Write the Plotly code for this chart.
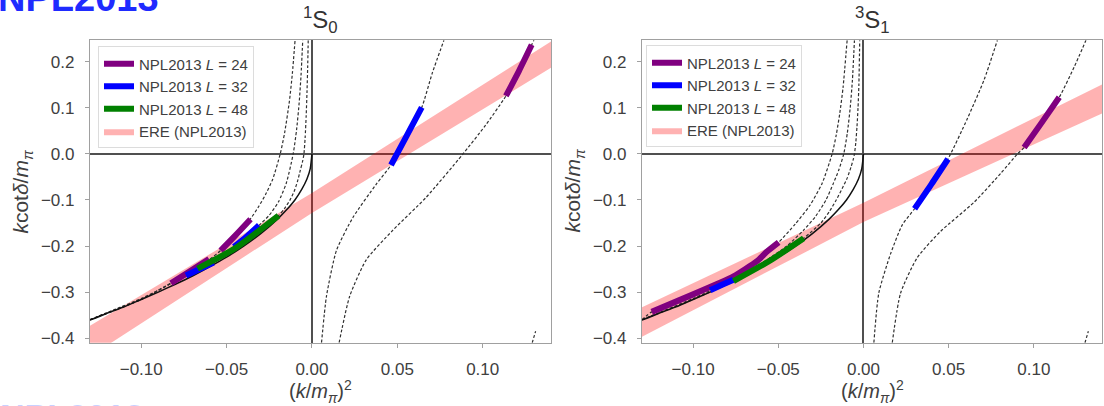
import plotly.graph_objects as go

# ---------------- data ----------------
X_TICKS = [-0.10, -0.05, 0.00, 0.05, 0.10]
Y_TICKS = [-0.4, -0.3, -0.2, -0.1, 0.0, 0.1, 0.2]
PANEL_TITLES = ["<sup>1</sup>S<sub>0</sub>", "<sup>3</sup>S<sub>1</sub>"]
LEGEND_NAMES = ["NPL2013 <i>L</i> = 24", "NPL2013 <i>L</i> = 32", "NPL2013 <i>L</i> = 48", "ERE (NPL2013)"]

# infinite-volume bound-state curve (solid), same in both panels
solid_x = [-0.13, -0.12, -0.11, -0.10, -0.09, -0.08, -0.07, -0.06, -0.05, -0.04, -0.03,
           -0.02, -0.015, -0.01, -0.006, -0.003, -0.001, 0.0]
solid_y = [-0.361, -0.346, -0.332, -0.316, -0.300, -0.283, -0.265, -0.245, -0.224, -0.200,
           -0.173, -0.141, -0.122, -0.100, -0.077, -0.055, -0.032, 0.0]

# ---- 1S0 panel ----
s0_L24_neg_x = [-0.13, -0.115, -0.10, -0.09, -0.083, -0.07, -0.06, -0.0535, -0.045, -0.036, -0.031,
                -0.0273, -0.023, -0.0186, -0.016, -0.0132, -0.0115, -0.0099]
s0_L24_neg_y = [-0.360, -0.337, -0.314, -0.296, -0.281, -0.253, -0.229, -0.210, -0.178, -0.141, -0.113,
                -0.089, -0.055, 0.0, 0.046, 0.115, 0.174, 0.247]
s0_L32_neg_x = [-0.13, -0.115, -0.10, -0.0738, -0.0576, -0.0457, -0.038, -0.031, -0.025, -0.0196,
                -0.015, -0.011, -0.009, -0.0075, -0.0064, -0.0054]
s0_L32_neg_y = [-0.360, -0.338, -0.316, -0.264, -0.236, -0.202, -0.180, -0.155, -0.133, -0.104,
                -0.063, 0.0, 0.053, 0.111, 0.171, 0.247]
s0_L48_neg_x = [-0.13, -0.115, -0.10, -0.067, -0.045, -0.0196, -0.016, -0.013, -0.0105, -0.0085,
                -0.0068, -0.0056, -0.0047, -0.004, -0.0034, -0.0029, -0.0025, -0.0022]
s0_L48_neg_y = [-0.360, -0.339, -0.316, -0.249, -0.205, -0.134, -0.118, -0.101, -0.082, -0.060,
                -0.035, -0.018, 0.0, 0.035, 0.082, 0.135, 0.190, 0.247]
s0_A_x = [0.0056, 0.0085, 0.0144, 0.024, 0.0376, 0.0463, 0.0553, 0.0643, 0.0705, 0.0773]
s0_A_y = [-0.41, -0.309, -0.209, -0.138, -0.066, -0.024, 0.038, 0.101, 0.176, 0.247]
s0_B_x = [0.0159, 0.0221, 0.0318, 0.0473, 0.0667, 0.088, 0.1016, 0.1136, 0.1212, 0.1287, 0.1300]
s0_B_y = [-0.41, -0.309, -0.230, -0.166, -0.095, -0.002, 0.062, 0.126, 0.18, 0.237, 0.247]
s0_C_x = [0.1290, 0.1310]
s0_C_y = [-0.41, -0.385]

s0_seg24_a_x = [-0.0826, -0.0715, -0.0603]
s0_seg24_a_y = [-0.281, -0.255, -0.228]
s0_seg24_b_x = [-0.0535, -0.0448, -0.036]
s0_seg24_b_y = [-0.210, -0.177, -0.142]
s0_seg24_c_x = [0.1136, 0.1212, 0.1287]
s0_seg24_c_y = [0.126, 0.18, 0.237]
s0_seg32_a_x = [-0.0738, -0.0657, -0.0576]
s0_seg32_a_y = [-0.264, -0.250, -0.236]
s0_seg32_b_x = [-0.0457, -0.0384, -0.031]
s0_seg32_b_y = [-0.202, -0.180, -0.155]
s0_seg32_c_x = [0.0463, 0.0553, 0.0643]
s0_seg32_c_y = [-0.024, 0.038, 0.101]
s0_seg48_x = [-0.067, -0.045, -0.0196]
s0_seg48_y = [-0.249, -0.205, -0.134]

s0_ere_x = [-0.13, 0.0, 0.14]
s0_ere_upper = [-0.373, -0.085, 0.244]
s0_ere_lower = [-0.440, -0.128, 0.187]

# ---- 3S1 panel ----
s1_L24_neg_x = [-0.13, -0.1243, -0.10, -0.085, -0.0763, -0.0625, -0.0566, -0.0498, -0.04, -0.0315,
                -0.0243, -0.0184, -0.016, -0.014, -0.012, -0.0096]
s1_L24_neg_y = [-0.36, -0.343, -0.305, -0.281, -0.266, -0.233, -0.212, -0.192, -0.152, -0.112,
                -0.064, 0.0, 0.041, 0.086, 0.144, 0.247]
s1_L32_neg_x = [-0.13, -0.10, -0.09, -0.0763, -0.06, -0.045, -0.035, -0.028, -0.022, -0.0178,
                -0.0145, -0.0116, -0.0095, -0.0078, -0.0065, -0.0053]
s1_L32_neg_y = [-0.36, -0.314, -0.297, -0.273, -0.238, -0.200, -0.165, -0.135, -0.100, -0.065,
                -0.035, 0.0, 0.045, 0.10, 0.16, 0.247]
s1_L48_neg_x = [-0.13, -0.10, -0.0763, -0.055, -0.0351, -0.025, -0.02, -0.016, -0.0125, -0.0095,
                -0.0072, -0.006, -0.0053, -0.0045, -0.0038, -0.0032, -0.0027, -0.0022]
s1_L48_neg_y = [-0.36, -0.316, -0.276, -0.232, -0.183, -0.150, -0.125, -0.100, -0.075, -0.052,
                -0.027, -0.012, 0.0, 0.025, 0.06, 0.10, 0.15, 0.247]
s1_A_x = [0.0061, 0.009, 0.0159, 0.0228, 0.030, 0.040, 0.0496, 0.061, 0.0708, 0.0786]
s1_A_y = [-0.41, -0.302, -0.217, -0.154, -0.119, -0.065, -0.011, 0.077, 0.161, 0.247]
s1_B_x = [0.0169, 0.0218, 0.0316, 0.0453, 0.0649, 0.0806, 0.0904, 0.0943, 0.1046, 0.1149, 0.1237, 0.1306]
s1_B_y = [-0.41, -0.302, -0.225, -0.168, -0.105, -0.042, 0.0, 0.014, 0.068, 0.123, 0.189, 0.247]
s1_C_x = [0.1300, 0.1320]
s1_C_y = [-0.41, -0.385]

s1_seg24_a_x = [-0.1243, -0.10, -0.085, -0.0763, -0.0625, -0.0566, -0.0498]
s1_seg24_a_y = [-0.343, -0.305, -0.281, -0.266, -0.233, -0.212, -0.192]
s1_seg24_b_x = [0.0943, 0.1046, 0.1149]
s1_seg24_b_y = [0.014, 0.068, 0.123]
s1_seg32_a_x = [-0.09, -0.083, -0.0763]
s1_seg32_a_y = [-0.296, -0.284, -0.273]
s1_seg32_b_x = [0.030, 0.040, 0.0496]
s1_seg32_b_y = [-0.119, -0.065, -0.011]
s1_seg48_x = [-0.0763, -0.055, -0.0351]
s1_seg48_y = [-0.276, -0.232, -0.183]

s1_ere_x = [-0.13, 0.0, 0.14]
s1_ere_upper = [-0.333, -0.106, 0.151]
s1_ere_lower = [-0.397, -0.148, 0.088]

X_RANGE = [-0.13, 0.14]
Y_RANGE = [-0.41, 0.247]

# ---------------- styling ----------------
W, H = 1104, 406
FONT = "Liberation Sans, Arial, sans-serif"
TXT = "#404040"
FRAME = "#a0a0a0"
PINK = "rgba(255,0,0,0.30)"
SEG_COLORS = ["#800080", "#0000ff", "#008000"]
DASH = dict(color="#303030", width=1.2, dash="3px,2px", shape="spline", smoothing=0.6)

fig = go.Figure()


def add_band(xs, up, lo, xa, ya, leg):
    fig.add_trace(go.Scatter(
        x=list(xs) + list(xs)[::-1], y=list(up) + list(lo)[::-1],
        mode="lines", fill="toself", fillcolor=PINK, line=dict(width=0, color=PINK),
        name=LEGEND_NAMES[3], legend=leg, legendrank=4, legendgroup=leg + "ere",
        xaxis=xa, yaxis=ya, hoverinfo="skip"))


def add_dashed(x, y, xa, ya):
    fig.add_trace(go.Scatter(x=x, y=y, mode="lines", line=DASH, showlegend=False,
                             xaxis=xa, yaxis=ya, hoverinfo="skip"))


def add_seg(x, y, idx, xa, ya, leg, show):
    fig.add_trace(go.Scatter(x=x, y=y, mode="lines",
                             line=dict(color=SEG_COLORS[idx], width=6, shape="spline", smoothing=0.6),
                             name=LEGEND_NAMES[idx], showlegend=show, legend=leg,
                             legendrank=idx + 1, legendgroup=leg + str(idx),
                             xaxis=xa, yaxis=ya))


panels = [
    dict(xa="x", ya="y", leg="legend",
         band=(s0_ere_x, s0_ere_upper, s0_ere_lower),
         dashed=[(s0_L24_neg_x, s0_L24_neg_y), (s0_L32_neg_x, s0_L32_neg_y),
                 (s0_L48_neg_x, s0_L48_neg_y), (s0_A_x, s0_A_y), (s0_B_x, s0_B_y),
                 (s0_C_x, s0_C_y)],
         segs=[(s0_seg24_a_x, s0_seg24_a_y, 0), (s0_seg24_b_x, s0_seg24_b_y, 0),
               (s0_seg24_c_x, s0_seg24_c_y, 0), (s0_seg32_a_x, s0_seg32_a_y, 1),
               (s0_seg32_b_x, s0_seg32_b_y, 1), (s0_seg32_c_x, s0_seg32_c_y, 1),
               (s0_seg48_x, s0_seg48_y, 2)]),
    dict(xa="x2", ya="y2", leg="legend2",
         band=(s1_ere_x, s1_ere_upper, s1_ere_lower),
         dashed=[(s1_L24_neg_x, s1_L24_neg_y), (s1_L32_neg_x, s1_L32_neg_y),
                 (s1_L48_neg_x, s1_L48_neg_y), (s1_A_x, s1_A_y), (s1_B_x, s1_B_y),
                 (s1_C_x, s1_C_y)],
         segs=[(s1_seg24_a_x, s1_seg24_a_y, 0), (s1_seg24_b_x, s1_seg24_b_y, 0),
               (s1_seg32_a_x, s1_seg32_a_y, 1), (s1_seg32_b_x, s1_seg32_b_y, 1),
               (s1_seg48_x, s1_seg48_y, 2)]),
]

for p in panels:
    add_band(*p["band"], p["xa"], p["ya"], p["leg"])
    for dx, dy in p["dashed"]:
        add_dashed(dx, dy, p["xa"], p["ya"])
    fig.add_trace(go.Scatter(x=solid_x, y=solid_y, mode="lines",
                             line=dict(color="#111111", width=1.5, shape="spline", smoothing=0.6),
                             showlegend=False, xaxis=p["xa"], yaxis=p["ya"], hoverinfo="skip"))
    seen = set()
    for sx, sy, idx in p["segs"]:
        add_seg(sx, sy, idx, p["xa"], p["ya"], p["leg"], idx not in seen)
        seen.add(idx)


# ---------------- layout ----------------
def px_x(v):
    return v / W


def px_y(v):
    return 1 - v / H


dom_left = [px_x(90), px_x(551)]
dom_right = [px_x(642), px_x(1102)]
dom_y = [px_y(347), px_y(40.7)]

axis_common = dict(showgrid=False, zeroline=True, zerolinecolor="#505050", zerolinewidth=2,
                   showline=True, mirror=True, linecolor=FRAME, linewidth=1.2,
                   ticks="outside", ticklen=4, tickcolor=FRAME, ticklabelstandoff=7,
                   tickfont=dict(family=FONT, size=17, color=TXT))
common_x = dict(range=X_RANGE, tickvals=X_TICKS, tickformat=".2f", **axis_common)
common_y = dict(range=Y_RANGE, tickvals=Y_TICKS, tickformat=".1f", **axis_common)

legend_common = dict(xanchor="left", yanchor="top", bgcolor="rgba(255,255,255,0.85)",
                     bordercolor="#dcdcdc", borderwidth=1, traceorder="normal",
                     tracegroupgap=1, itemwidth=30,
                     font=dict(family=FONT, size=15, color=TXT))

fig.update_layout(
    width=W, height=H, margin=dict(l=0, r=0, t=0, b=0),
    paper_bgcolor="white", plot_bgcolor="white",
    xaxis=dict(domain=dom_left, anchor="y", **common_x),
    yaxis=dict(domain=dom_y, anchor="x", **common_y),
    xaxis2=dict(domain=dom_right, anchor="y2", **common_x),
    yaxis2=dict(domain=dom_y, anchor="x2", **common_y),
    legend=dict(x=px_x(98), y=px_y(47), **legend_common),
    legend2=dict(x=px_x(646), y=px_y(46), **legend_common),
    showlegend=True,
)

ylab = "<i>k</i>cot<i>δ</i>/<i>m</i><sub><i>π</i></sub>"
xlab = "(<i>k</i>/<i>m</i><sub><i>π</i></sub>)<sup>2</sup>"
annotations = []
for i, (cx, lx) in enumerate([(320.5, 22), (872, 574)]):
    annotations.append(dict(text=PANEL_TITLES[i], x=px_x(cx), y=px_y(39), xref="paper", yref="paper",
                            xanchor="center", yanchor="bottom", showarrow=False,
                            font=dict(family=FONT, size=24, color="#333333")))
    annotations.append(dict(text=xlab, x=px_x(cx), y=px_y(396), xref="paper", yref="paper",
                            xanchor="center", yanchor="middle", showarrow=False,
                            font=dict(family=FONT, size=20, color=TXT)))
    annotations.append(dict(text=ylab, x=px_x(lx), y=px_y(193), xref="paper", yref="paper",
                            xanchor="center", yanchor="middle", textangle=-90, showarrow=False,
                            font=dict(family=FONT, size=21, color=TXT)))
annotations.append(dict(text="<b>NPL2013</b>", x=px_x(-4), y=px_y(21), xref="paper", yref="paper",
                        xanchor="left", yanchor="bottom", showarrow=False,
                        font=dict(family=FONT, size=38, color="#1f2bff")))
annotations.append(dict(text="<b>NPL2013</b>", x=px_x(-2), y=px_y(400), xref="paper", yref="paper",
                        xanchor="left", yanchor="top", showarrow=False,
                        font=dict(family=FONT, size=34, color="#c8d0ff")))
fig.update_layout(annotations=annotations)

fig.write_html("out.html", config={"displayModeBar": False},
               post_script="document.body.style.margin='0';document.body.style.overflow='hidden';")
